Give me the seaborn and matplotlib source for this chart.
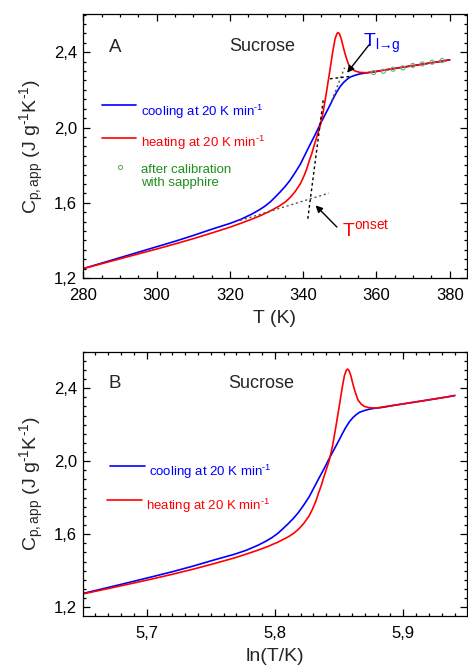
import numpy as np
import matplotlib
matplotlib.use("Agg")
import matplotlib.pyplot as plt
from matplotlib.ticker import MultipleLocator, FuncFormatter
import seaborn as sns

# Apparent heat capacity of sucrose, DSC scans at 20 K/min
T_cool = [280, 285, 290, 295, 300, 305, 310, 315, 320, 323, 326, 328, 329.5, 331,
          332.3, 333.7, 335.1, 336.4, 337.8, 339.2, 340.5, 341.9, 343.3, 344.6, 346.0,
          347.4, 348.3, 349.2, 350.1, 351.0, 351.9, 352.8, 354.2, 355.5, 357.4, 359.2,
          362, 366, 370, 374, 378, 380]
Cp_cool = [1.250, 1.279, 1.308, 1.337, 1.366, 1.395, 1.426, 1.459, 1.490, 1.512,
           1.540, 1.562, 1.581, 1.604, 1.629, 1.657, 1.687, 1.719, 1.760, 1.804,
           1.855, 1.910, 1.963, 2.016, 2.069, 2.122, 2.158, 2.190, 2.218, 2.239,
           2.255, 2.268, 2.278, 2.285, 2.291, 2.295, 2.305, 2.317, 2.329, 2.341,
           2.353, 2.360]

T_heat = [280, 285, 290, 295, 300, 305, 310, 315, 320, 323, 326, 328.5, 331, 333.7,
          335.1, 336.4, 337.8, 339.2, 340.1, 341.0, 341.7, 342.4, 343.0, 343.7, 344.6,
          345.5, 346.4, 347.4, 348.1, 348.7, 349.2, 349.5, 349.9, 350.4, 351.0, 351.7,
          352.4, 353.3, 354.2, 355.5, 357.4, 359.2, 362, 366, 370, 374, 378, 380]
Cp_heat = [1.250, 1.276, 1.302, 1.328, 1.354, 1.381, 1.409, 1.439, 1.470, 1.491,
           1.513, 1.533, 1.556, 1.585, 1.604, 1.627, 1.659, 1.700, 1.737, 1.781,
           1.825, 1.864, 1.905, 1.949, 2.006, 2.087, 2.193, 2.317, 2.406, 2.471,
           2.498, 2.505, 2.498, 2.471, 2.423, 2.374, 2.335, 2.312, 2.300, 2.293,
           2.291, 2.297, 2.305, 2.317, 2.329, 2.341, 2.353, 2.360]

# sapphire-calibrated points
T_cal = [359.2, 361.9, 364.5, 367.2, 369.9, 372.5, 375.2, 377.9]
Cp_cal = [2.292, 2.299, 2.310, 2.317, 2.330, 2.338, 2.347, 2.356]

# construction lines for the onset and fictive temperatures
glass_tangent = ([322.8, 347.0], [1.506, 1.651])
step_tangent = ([341.26, 345.5], [1.515, 2.150])
liquid_tangent = ([347.3, 352.5], [2.259, 2.271])
cool_tangent = ([347.8, 351.3], [2.142, 2.318])

sns.set_theme(style="ticks")
plt.rcParams["font.family"] = ["Liberation Sans", "DejaVu Sans"]
plt.rcParams["mathtext.fontset"] = "custom"
plt.rcParams["mathtext.rm"] = "Liberation Sans"
plt.rcParams["mathtext.it"] = "Liberation Sans"
plt.rcParams["mathtext.default"] = "regular"
plt.rcParams["axes.linewidth"] = 0.9
plt.rcParams["axes.edgecolor"] = "black"

fig = plt.figure(figsize=(4.68, 6.67), dpi=100)
axA = fig.add_axes([0.178, 0.5832, 0.819, 0.3954])
axB = fig.add_axes([0.178, 0.0765, 0.819, 0.3962])

comma = FuncFormatter(lambda v, p: f"{v:.1f}".replace(".", ","))
comma0 = FuncFormatter(lambda v, p: f"{v:.0f}")

BLUE = "#0000ff"
RED = "#ff0000"
GREEN = "#1f8f1f"
ylab = r"C$_{p,app}$ (J g$^{\text{-1}}$K$^{\text{-1}}$)"
rate = r" at 20 K min$^{\text{-1}}$"


def style_axes(ax):
    ax.tick_params(which="both", direction="in", top=True, right=True,
                   colors="black", width=0.9)
    ax.tick_params(which="major", length=5, labelsize=12)
    ax.tick_params(which="minor", length=2.5)
    ax.tick_params(axis="x", pad=7)
    ax.tick_params(axis="y", pad=4.5)
    ax.yaxis.set_major_locator(MultipleLocator(0.4))
    ax.yaxis.set_minor_locator(MultipleLocator(0.05))
    ax.yaxis.set_major_formatter(comma)
    for s in ax.spines.values():
        s.set_visible(True)
        s.set_color("black")
    ax.set_ylabel(ylab, fontsize=14, labelpad=6)


# ---- panel A: versus temperature
sns.lineplot(x=T_cool, y=Cp_cool, ax=axA, color=BLUE, lw=1.2, sort=False, estimator=None)
sns.lineplot(x=T_heat, y=Cp_heat, ax=axA, color=RED, lw=1.2, sort=False, estimator=None)
axA.plot(*glass_tangent, color="#555555", lw=1.0, ls=(0, (1.5, 2)))
axA.plot(*cool_tangent, color="#555555", lw=1.0, ls=(0, (1.5, 2)))
axA.plot(*step_tangent, color="black", lw=1.0, ls=(0, (2, 2)))
axA.plot(*liquid_tangent, color="black", lw=1.0, ls=(0, (2, 2)))
sns.scatterplot(x=T_cal, y=Cp_cal, ax=axA, marker="o", s=9, facecolor="none",
                edgecolor="#6fae6f", linewidth=0.8, zorder=5)

axA.set_xlim(280, 384.6)
axA.set_ylim(1.2, 2.602)
axA.xaxis.set_major_locator(MultipleLocator(20))
axA.xaxis.set_minor_locator(MultipleLocator(5))
axA.xaxis.set_major_formatter(comma0)
style_axes(axA)
axA.set_xlabel("T (K)", fontsize=14, labelpad=5)

axA.text(288.7, 2.425, "A", fontsize=13.5, ha="center", va="center")
axA.text(328.8, 2.43, "Sucrose", fontsize=13, ha="center", va="center")

# legend keys
axA.plot([0.0496, 0.1375], [0.656, 0.656], color=BLUE, lw=1.2, transform=axA.transAxes)
axA.text(0.1505, 0.6306, "cooling" + rate, color=BLUE, fontsize=9.5,
         va="center", transform=axA.transAxes)
axA.plot([0.0496, 0.1375], [0.532, 0.532], color=RED, lw=1.2, transform=axA.transAxes)
axA.text(0.1505, 0.5108, "heating" + rate, color=RED, fontsize=9.5,
         va="center", transform=axA.transAxes)
axA.plot([0.0957], [0.422], marker="o", ms=3, mfc="none", mec="#6fae6f", mew=0.8,
         transform=axA.transAxes)
axA.text(0.1505, 0.3857, "after calibration\nwith sapphire", color=GREEN, fontsize=9.5,
         va="center", linespacing=1.15, transform=axA.transAxes)

# fictive and onset temperatures
axA.annotate("", xy=(352.0, 2.291), xytext=(358.0, 2.44),
             arrowprops=dict(arrowstyle="-|>", color="black", lw=1.0,
                             mutation_scale=10, shrinkA=0, shrinkB=0))
axA.text(356.3, 2.43, r"T$_{l→g}$", color=BLUE, fontsize=14, ha="left", va="baseline")
axA.annotate("", xy=(343.4, 1.586), xytext=(349.2, 1.471),
             arrowprops=dict(arrowstyle="-|>", color="black", lw=1.0,
                             mutation_scale=10, shrinkA=0, shrinkB=0))
axA.text(350.5, 1.418, r"T$^{onset}$", color=RED, fontsize=14, ha="left", va="baseline")

# ---- panel B: versus ln(T)
lnT_cool = np.log(T_cool)
lnT_heat = np.log(T_heat)
sns.lineplot(x=lnT_cool, y=Cp_cool, ax=axB, color=BLUE, lw=1.2, sort=False, estimator=None)
sns.lineplot(x=lnT_heat, y=Cp_heat, ax=axB, color=RED, lw=1.2, sort=False, estimator=None)
axB.set_xlim(5.6506, 5.9494)
axB.set_ylim(1.152, 2.6)
axB.xaxis.set_major_locator(MultipleLocator(0.1))
axB.xaxis.set_minor_locator(MultipleLocator(0.01))
axB.xaxis.set_major_formatter(comma)
style_axes(axB)
axB.set_xlabel("ln(T/K)", fontsize=14, labelpad=5)

axB.text(0.081, 0.878, "B", fontsize=13.5, ha="center", va="center", transform=axB.transAxes)
axB.text(0.465, 0.878, "Sucrose", fontsize=13, ha="center", va="center", transform=axB.transAxes)

axB.plot([0.0696, 0.161], [0.5675, 0.5675], color=BLUE, lw=1.2, transform=axB.transAxes)
axB.text(0.171, 0.5437, "cooling" + rate, color=BLUE, fontsize=9.5,
         va="center", transform=axB.transAxes)
axB.plot([0.0626, 0.1523], [0.4378, 0.4378], color=RED, lw=1.2, transform=axB.transAxes)
axB.text(0.1628, 0.4173, "heating" + rate, color=RED, fontsize=9.5,
         va="center", transform=axB.transAxes)

fig.savefig("out.png", dpi=100)
